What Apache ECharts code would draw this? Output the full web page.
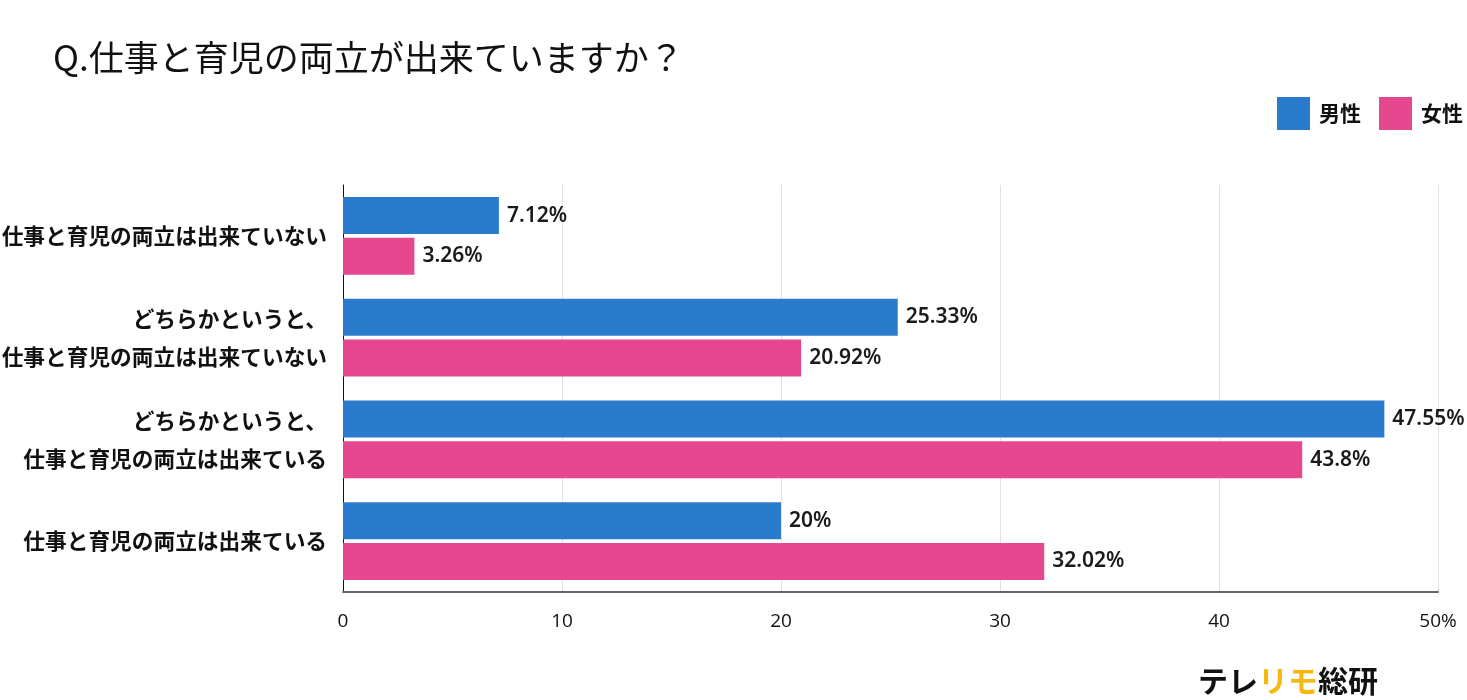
<!DOCTYPE html>
<html><head><meta charset="utf-8">
<script src="https://cdn.jsdelivr.net/npm/echarts@6/dist/echarts.min.js"></script>
<style>html,body{margin:0;padding:0;background:#fff}#c{width:1467px;height:700px}</style>
</head><body><div id="c"></div>
<script>
const categories = [
  '仕事と育児の両立は出来ていない',
  'どちらかというと、\n仕事と育児の両立は出来ていない',
  'どちらかというと、\n仕事と育児の両立は出来ている',
  '仕事と育児の両立は出来ている'
];
const maleValues = [7.12, 25.33, 47.55, 20];
const femaleValues = [3.26, 20.92, 43.8, 32.02];
const xTickLabels = ['0', '10', '20', '30', '40', '50%'];
const seriesNames = ['男性', '女性'];

const font = '"Noto Sans CJK JP", "Noto Sans", sans-serif';
const chart = echarts.init(document.getElementById('c'));
const labelCfg = {
  show: true, position: 'right', distance: 8,
  fontFamily: '"Noto Sans", "Noto Sans CJK JP", sans-serif', fontSize: 21, fontWeight: 600, color: '#1a1a1a',
  formatter: p => p.value + '%'
};
chart.setOption({
  animation: false,
  title: {
    text: 'Q.仕事と育児の両立が出来ていますか？',
    left: 48, top: 35,
    textStyle: { fontFamily: font, fontSize: 35, fontWeight: 'normal', color: '#111' }
  },
  legend: {
    right: 4, top: 97, padding: 0, itemWidth: 33, itemHeight: 33, itemGap: 18,
    icon: 'rect',
    textStyle: { fontFamily: font, fontSize: 21, fontWeight: 'bold', color: '#111', padding: [0, 0, 0, 4] },
    data: seriesNames
  },
  grid: { left: 343, right: 29, top: 185, bottom: 108, containLabel: false, outerBoundsMode: 'none' },
  xAxis: {
    type: 'value', min: 0, max: 50, interval: 10,
    axisLine: { show: true, lineStyle: { color: '#666', width: 2 } },
    axisTick: { show: false },
    splitLine: { show: true, lineStyle: { color: '#e2e2e2', width: 1 } },
    axisLabel: {
      margin: 20, fontFamily: '"Open Sans", sans-serif', fontSize: 19, color: '#111',
      formatter: (v) => xTickLabels[Math.round(v / 10)]
    }
  },
  yAxis: {
    type: 'category', data: categories, inverse: true,
    axisLine: { show: true, lineStyle: { color: '#111', width: 1 } },
    axisTick: { show: false },
    axisLabel: {
      margin: 16, fontFamily: font, fontSize: 21.7, fontWeight: 'bold', color: '#111',
      lineHeight: 38, align: 'right'
    }
  },
  series: [
    { name: seriesNames[0], type: 'bar', data: maleValues, barWidth: 37, barGap: '10%',
      itemStyle: { color: '#2b7bcd' }, label: labelCfg },
    { name: seriesNames[1], type: 'bar', data: femaleValues, barWidth: 37,
      itemStyle: { color: '#e5488e' }, label: labelCfg }
  ],
  graphic: [{
    type: 'text', right: 89, top: 666,
    style: {
      text: '{k|テレ}{y|リモ}{k|総研}',
      rich: {
        k: { fontFamily: font, fontSize: 30, fontWeight: 'bold', fill: '#111' },
        y: { fontFamily: font, fontSize: 30, fontWeight: 'bold', fill: '#f7b910' }
      }
    }
  }]
});
</script></body></html>
